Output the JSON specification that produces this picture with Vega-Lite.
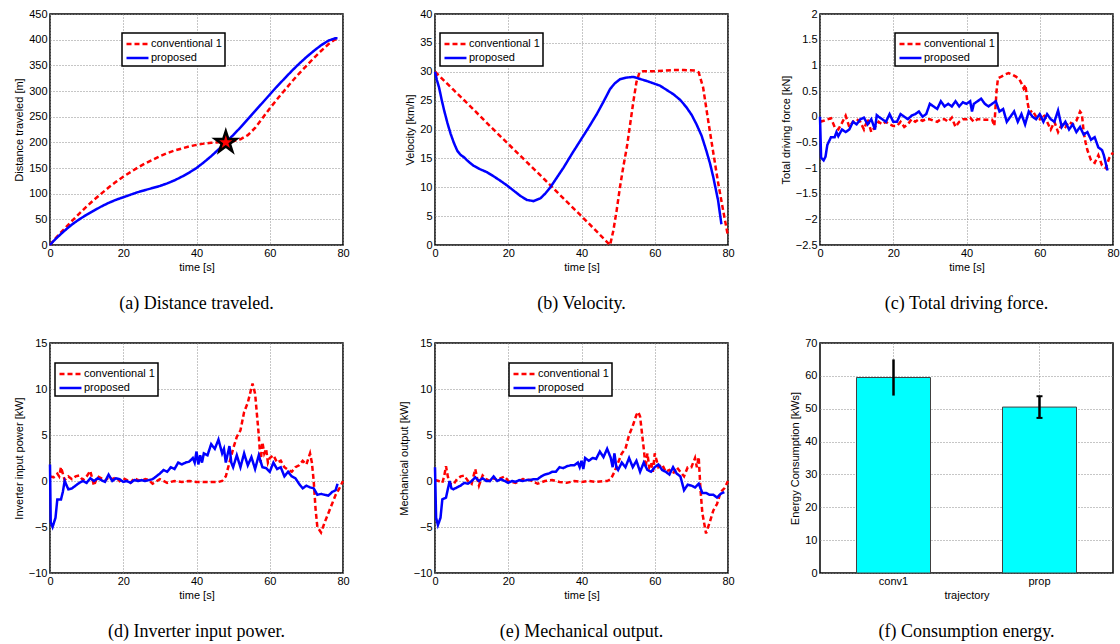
{
"$schema": "https://vega.github.io/schema/vega-lite/v6.json",
"background": "white",
"padding": {"left": 12, "top": 7, "right": 0, "bottom": 0},
"config": {
  "view": {"stroke": "black", "strokeWidth": 1.5},
  "axis": {"labelFont": "Liberation Sans", "labelFontSize": 11, "labelColor": "black", "titleFont": "Liberation Sans", "titleFontSize": 11, "titleFontWeight": "normal", "titleColor": "black", "ticks": false, "tickSize": 0, "domain": false, "grid": true, "gridColor": "#8c8c8c", "gridDash": [1, 2], "gridWidth": 1, "labelPadding": 3, "titlePadding": 4, "labelFlush": false, "labelOverlap": false},
  "axisX": {"labelPadding": 2, "titlePadding": 3},
  "legend": {"symbolType": "M-1,0L2.38,0", "symbolSize": 169, "symbolStrokeWidth": 2.5, "labelFont": "Liberation Sans", "labelFontSize": 11, "labelColor": "black", "labelOffset": 10, "padding": 3, "rowPadding": 1, "strokeColor": "black", "strokeWidth": 1.5, "fillColor": "white", "labelLimit": 200, "symbolOpacity": 1},
  "title": {"orient": "bottom", "font": "Liberation Serif", "fontSize": 18, "fontWeight": "normal", "color": "black", "offset": 23, "anchor": "middle", "baseline": "top"},
  "line": {"strokeWidth": 2.5, "clip": true}
},
"datasets": {
  "dist": [
    {"s":"c","t":0,"y":0},{"s":"c","t":2,"y":17},{"s":"c","t":4,"y":32},{"s":"c","t":6,"y":47},{"s":"c","t":8,"y":61},{"s":"c","t":10,"y":75},{"s":"c","t":12,"y":88},{"s":"c","t":14,"y":100},{"s":"c","t":16,"y":112},{"s":"c","t":18,"y":123},{"s":"c","t":20,"y":133},{"s":"c","t":22,"y":142},{"s":"c","t":24,"y":151},{"s":"c","t":26,"y":159},{"s":"c","t":28,"y":166},{"s":"c","t":30,"y":173},{"s":"c","t":32,"y":179},{"s":"c","t":34,"y":184},{"s":"c","t":36,"y":188},{"s":"c","t":38,"y":192},{"s":"c","t":40,"y":195},{"s":"c","t":42,"y":197.5},{"s":"c","t":44,"y":199},{"s":"c","t":46,"y":200},{"s":"c","t":48,"y":200.5},{"s":"c","t":50,"y":202},{"s":"c","t":52,"y":206},{"s":"c","t":54,"y":214},{"s":"c","t":56,"y":228},{"s":"c","t":58,"y":247},{"s":"c","t":60,"y":266},{"s":"c","t":62,"y":284},{"s":"c","t":64,"y":301},{"s":"c","t":66,"y":318},{"s":"c","t":68,"y":334},{"s":"c","t":70,"y":349},{"s":"c","t":72,"y":364},{"s":"c","t":74,"y":378},{"s":"c","t":76,"y":391},{"s":"c","t":77.5,"y":399},{"s":"c","t":78.5,"y":402},{"s":"c","t":79,"y":401.5},
    {"s":"p","t":0,"y":0},{"s":"p","t":1,"y":8},{"s":"p","t":2,"y":15},{"s":"p","t":4,"y":28},{"s":"p","t":6,"y":40},{"s":"p","t":8,"y":50},{"s":"p","t":10,"y":59},{"s":"p","t":12,"y":67},{"s":"p","t":14,"y":75},{"s":"p","t":16,"y":82},{"s":"p","t":18,"y":88},{"s":"p","t":20,"y":93},{"s":"p","t":22,"y":98},{"s":"p","t":24,"y":103},{"s":"p","t":26,"y":107},{"s":"p","t":28,"y":111},{"s":"p","t":30,"y":115},{"s":"p","t":32,"y":120},{"s":"p","t":34,"y":126},{"s":"p","t":36,"y":133},{"s":"p","t":38,"y":141},{"s":"p","t":40,"y":150},{"s":"p","t":42,"y":161},{"s":"p","t":44,"y":173},{"s":"p","t":46,"y":186},{"s":"p","t":48,"y":200},{"s":"p","t":50,"y":214},{"s":"p","t":52,"y":229},{"s":"p","t":54,"y":245},{"s":"p","t":56,"y":261},{"s":"p","t":58,"y":277},{"s":"p","t":60,"y":293},{"s":"p","t":62,"y":309},{"s":"p","t":64,"y":324},{"s":"p","t":66,"y":339},{"s":"p","t":68,"y":353},{"s":"p","t":70,"y":366},{"s":"p","t":72,"y":378},{"s":"p","t":74,"y":389},{"s":"p","t":76,"y":398},{"s":"p","t":78,"y":403},{"s":"p","t":78.5,"y":403}
  ],
  "vel": [
    {"s":"c","t":0,"y":30},{"s":"c","t":5,"y":26.9},{"s":"c","t":10,"y":23.8},{"s":"c","t":15,"y":20.6},{"s":"c","t":20,"y":17.5},{"s":"c","t":25,"y":14.4},{"s":"c","t":30,"y":11.3},{"s":"c","t":35,"y":8.1},{"s":"c","t":40,"y":5.0},{"s":"c","t":45,"y":1.8},{"s":"c","t":47.8,"y":0},{"s":"c","t":48.7,"y":2.5},{"s":"c","t":49.6,"y":6},{"s":"c","t":50.5,"y":10},{"s":"c","t":51.4,"y":13.5},{"s":"c","t":52.4,"y":17},{"s":"c","t":53.3,"y":21},{"s":"c","t":54.2,"y":25},{"s":"c","t":55,"y":28.2},{"s":"c","t":55.8,"y":29.8},{"s":"c","t":56.8,"y":30.1},{"s":"c","t":60,"y":30.1},{"s":"c","t":65,"y":30.3},{"s":"c","t":68,"y":30.3},{"s":"c","t":71,"y":30.2},{"s":"c","t":72,"y":29.9},{"s":"c","t":73.2,"y":27.3},{"s":"c","t":74.6,"y":21.5},{"s":"c","t":75.9,"y":16.3},{"s":"c","t":77.3,"y":10.8},{"s":"c","t":78.7,"y":5.9},{"s":"c","t":80,"y":1.5},
    {"s":"p","t":0,"y":30},{"s":"p","t":0.5,"y":28.6},{"s":"p","t":1.1,"y":27.3},{"s":"p","t":1.8,"y":25.2},{"s":"p","t":2.5,"y":23.3},{"s":"p","t":3.4,"y":21.1},{"s":"p","t":4.3,"y":19.2},{"s":"p","t":5.2,"y":17.6},{"s":"p","t":6.1,"y":16.3},{"s":"p","t":7,"y":15.6},{"s":"p","t":7.9,"y":15.2},{"s":"p","t":9.2,"y":14.4},{"s":"p","t":10.6,"y":13.7},{"s":"p","t":12.4,"y":13.1},{"s":"p","t":14.2,"y":12.6},{"s":"p","t":16,"y":11.9},{"s":"p","t":17.9,"y":11.1},{"s":"p","t":19.7,"y":10.3},{"s":"p","t":21.5,"y":9.4},{"s":"p","t":23.3,"y":8.5},{"s":"p","t":25.1,"y":7.8},{"s":"p","t":26.9,"y":7.6},{"s":"p","t":28.8,"y":8.1},{"s":"p","t":30.1,"y":8.9},{"s":"p","t":31.5,"y":10},{"s":"p","t":33.3,"y":11.7},{"s":"p","t":35.1,"y":13.4},{"s":"p","t":37.4,"y":15.8},{"s":"p","t":39.7,"y":18.1},{"s":"p","t":42,"y":20.4},{"s":"p","t":44.2,"y":22.7},{"s":"p","t":46,"y":24.8},{"s":"p","t":47.8,"y":27},{"s":"p","t":49.1,"y":28},{"s":"p","t":50.5,"y":28.7},{"s":"p","t":52.4,"y":29},{"s":"p","t":54.2,"y":29.1},{"s":"p","t":57.8,"y":28.4},{"s":"p","t":61.4,"y":27.6},{"s":"p","t":65.1,"y":26.1},{"s":"p","t":67,"y":25.1},{"s":"p","t":68.7,"y":23.8},{"s":"p","t":70.1,"y":22.5},{"s":"p","t":71.4,"y":20.9},{"s":"p","t":72.8,"y":18.9},{"s":"p","t":74.1,"y":16.3},{"s":"p","t":75.1,"y":14.1},{"s":"p","t":76,"y":11.7},{"s":"p","t":77.3,"y":7.7},{"s":"p","t":78.2,"y":3.6}
  ],
  "force": [
    {"s":"c","t":0,"y":-0.1},{"s":"c","t":1,"y":-0.08},{"s":"c","t":2,"y":-0.05},{"s":"c","t":3,"y":-0.03},{"s":"c","t":4,"y":-0.2},{"s":"c","t":5,"y":-0.25},{"s":"c","t":6,"y":-0.12},{"s":"c","t":7,"y":0.02},{"s":"c","t":8,"y":-0.2},{"s":"c","t":9,"y":-0.1},{"s":"c","t":10,"y":-0.05},{"s":"c","t":11,"y":-0.1},{"s":"c","t":12,"y":-0.25},{"s":"c","t":13,"y":-0.05},{"s":"c","t":14,"y":-0.3},{"s":"c","t":15,"y":-0.2},{"s":"c","t":16,"y":-0.1},{"s":"c","t":17,"y":-0.15},{"s":"c","t":18,"y":-0.1},{"s":"c","t":19,"y":-0.15},{"s":"c","t":20,"y":-0.18},{"s":"c","t":21,"y":-0.18},{"s":"c","t":22,"y":-0.1},{"s":"c","t":23,"y":-0.2},{"s":"c","t":24,"y":-0.15},{"s":"c","t":25,"y":-0.05},{"s":"c","t":26,"y":-0.1},{"s":"c","t":27,"y":-0.05},{"s":"c","t":28,"y":-0.08},{"s":"c","t":29,"y":-0.05},{"s":"c","t":30,"y":-0.05},{"s":"c","t":31,"y":-0.08},{"s":"c","t":32,"y":-0.1},{"s":"c","t":33,"y":-0.05},{"s":"c","t":34,"y":-0.05},{"s":"c","t":35,"y":-0.1},{"s":"c","t":36,"y":-0.02},{"s":"c","t":37,"y":-0.2},{"s":"c","t":38,"y":-0.1},{"s":"c","t":39,"y":-0.05},{"s":"c","t":40,"y":-0.05},{"s":"c","t":41,"y":-0.02},{"s":"c","t":42,"y":-0.1},{"s":"c","t":43,"y":-0.05},{"s":"c","t":44,"y":-0.05},{"s":"c","t":45,"y":-0.06},{"s":"c","t":46,"y":-0.06},{"s":"c","t":47,"y":-0.06},{"s":"c","t":47.6,"y":-0.18},{"s":"c","t":48.2,"y":0.5},{"s":"c","t":48.6,"y":0.75},{"s":"c","t":49.5,"y":0.78},{"s":"c","t":50.5,"y":0.82},{"s":"c","t":51.5,"y":0.85},{"s":"c","t":52.5,"y":0.82},{"s":"c","t":53.5,"y":0.78},{"s":"c","t":54.5,"y":0.72},{"s":"c","t":55.2,"y":0.62},{"s":"c","t":55.6,"y":0.55},{"s":"c","t":56.1,"y":0.62},{"s":"c","t":56.6,"y":0.3},{"s":"c","t":57.2,"y":0.08},{"s":"c","t":58,"y":0.12},{"s":"c","t":59,"y":0.0},{"s":"c","t":60,"y":-0.05},{"s":"c","t":61,"y":0.05},{"s":"c","t":62,"y":-0.1},{"s":"c","t":63,"y":-0.25},{"s":"c","t":64,"y":-0.1},{"s":"c","t":65,"y":-0.3},{"s":"c","t":66,"y":-0.15},{"s":"c","t":67,"y":-0.2},{"s":"c","t":68,"y":-0.1},{"s":"c","t":69,"y":-0.15},{"s":"c","t":70,"y":-0.08},{"s":"c","t":71,"y":0.1},{"s":"c","t":71.5,"y":0.05},{"s":"c","t":72,"y":-0.3},{"s":"c","t":72.5,"y":-0.5},{"s":"c","t":73,"y":-0.65},{"s":"c","t":74,"y":-0.85},{"s":"c","t":75,"y":-0.9},{"s":"c","t":76,"y":-0.75},{"s":"c","t":77,"y":-0.95},{"s":"c","t":78,"y":-1.0},{"s":"c","t":79,"y":-0.8},{"s":"c","t":80,"y":-0.7},
    {"s":"p","t":0,"y":0},{"s":"p","t":0.3,"y":-0.8},{"s":"p","t":1,"y":-0.85},{"s":"p","t":1.5,"y":-0.78},{"s":"p","t":2,"y":-0.55},{"s":"p","t":3,"y":-0.4},{"s":"p","t":4,"y":-0.4},{"s":"p","t":4.5,"y":-0.3},{"s":"p","t":5,"y":-0.38},{"s":"p","t":6,"y":-0.25},{"s":"p","t":7,"y":-0.3},{"s":"p","t":8,"y":-0.25},{"s":"p","t":9,"y":-0.1},{"s":"p","t":10,"y":-0.15},{"s":"p","t":11,"y":-0.05},{"s":"p","t":12,"y":-0.02},{"s":"p","t":13,"y":-0.15},{"s":"p","t":14,"y":-0.05},{"s":"p","t":15,"y":-0.25},{"s":"p","t":15.5,"y":0.03},{"s":"p","t":16,"y":0.0},{"s":"p","t":17,"y":-0.05},{"s":"p","t":18,"y":-0.1},{"s":"p","t":19,"y":0.05},{"s":"p","t":20,"y":-0.1},{"s":"p","t":21,"y":-0.1},{"s":"p","t":22,"y":0.05},{"s":"p","t":23,"y":0.0},{"s":"p","t":24,"y":-0.05},{"s":"p","t":25,"y":0.02},{"s":"p","t":26,"y":0.05},{"s":"p","t":27,"y":0.1},{"s":"p","t":28,"y":0.0},{"s":"p","t":29,"y":0.05},{"s":"p","t":30,"y":0.25},{"s":"p","t":31,"y":0.2},{"s":"p","t":32,"y":0.15},{"s":"p","t":33,"y":0.3},{"s":"p","t":34,"y":0.2},{"s":"p","t":35,"y":0.25},{"s":"p","t":36,"y":0.2},{"s":"p","t":37,"y":0.3},{"s":"p","t":38,"y":0.2},{"s":"p","t":39,"y":0.28},{"s":"p","t":40,"y":0.25},{"s":"p","t":41,"y":0.3},{"s":"p","t":41.5,"y":0.1},{"s":"p","t":42,"y":0.25},{"s":"p","t":43,"y":0.3},{"s":"p","t":44,"y":0.35},{"s":"p","t":45,"y":0.25},{"s":"p","t":46,"y":0.2},{"s":"p","t":47,"y":0.25},{"s":"p","t":48,"y":0.3},{"s":"p","t":49,"y":0.1},{"s":"p","t":50,"y":0.15},{"s":"p","t":51,"y":-0.1},{"s":"p","t":52,"y":0.0},{"s":"p","t":53,"y":0.1},{"s":"p","t":54,"y":-0.1},{"s":"p","t":55,"y":0.05},{"s":"p","t":56,"y":-0.15},{"s":"p","t":57,"y":0.1},{"s":"p","t":58,"y":0.0},{"s":"p","t":59,"y":-0.05},{"s":"p","t":60,"y":0.05},{"s":"p","t":61,"y":-0.1},{"s":"p","t":62,"y":0.05},{"s":"p","t":63,"y":-0.05},{"s":"p","t":64,"y":-0.1},{"s":"p","t":65,"y":0.12},{"s":"p","t":66,"y":-0.2},{"s":"p","t":67,"y":-0.1},{"s":"p","t":68,"y":-0.25},{"s":"p","t":69,"y":-0.15},{"s":"p","t":70,"y":-0.3},{"s":"p","t":71,"y":-0.2},{"s":"p","t":72,"y":-0.35},{"s":"p","t":73,"y":-0.3},{"s":"p","t":74,"y":-0.45},{"s":"p","t":75,"y":-0.4},{"s":"p","t":76,"y":-0.6},{"s":"p","t":77,"y":-0.65},{"s":"p","t":77.5,"y":-0.75},{"s":"p","t":78,"y":-0.9},{"s":"p","t":78.5,"y":-1.05}
  ],
  "inv": [
    {"s":"c","t":0,"y":0.5},{"s":"c","t":1,"y":0.4},{"s":"c","t":2,"y":0.8},{"s":"c","t":2.5,"y":0.5},{"s":"c","t":3,"y":1.5},{"s":"c","t":3.5,"y":0.8},{"s":"c","t":4,"y":0.1},{"s":"c","t":5,"y":0.5},{"s":"c","t":6,"y":0.2},{"s":"c","t":7,"y":0.5},{"s":"c","t":8,"y":0.6},{"s":"c","t":9,"y":0.1},{"s":"c","t":10,"y":0.5},{"s":"c","t":11,"y":1.1},{"s":"c","t":11.5,"y":0.3},{"s":"c","t":12,"y":-0.5},{"s":"c","t":13,"y":0.5},{"s":"c","t":14,"y":0.3},{"s":"c","t":15,"y":0.0},{"s":"c","t":16,"y":0.4},{"s":"c","t":17,"y":0.2},{"s":"c","t":18,"y":0.4},{"s":"c","t":19,"y":0.0},{"s":"c","t":20,"y":0.3},{"s":"c","t":21,"y":0.1},{"s":"c","t":22,"y":-0.2},{"s":"c","t":23,"y":0.3},{"s":"c","t":24,"y":0.1},{"s":"c","t":25,"y":0.0},{"s":"c","t":26,"y":0.2},{"s":"c","t":27,"y":0.1},{"s":"c","t":28,"y":-0.3},{"s":"c","t":30,"y":0.2},{"s":"c","t":32,"y":-0.2},{"s":"c","t":34,"y":0.0},{"s":"c","t":36,"y":-0.1},{"s":"c","t":38,"y":0.0},{"s":"c","t":40,"y":-0.1},{"s":"c","t":42,"y":-0.1},{"s":"c","t":44,"y":-0.1},{"s":"c","t":46,"y":-0.1},{"s":"c","t":47,"y":0.0},{"s":"c","t":48,"y":0.5},{"s":"c","t":49,"y":2.0},{"s":"c","t":50,"y":3.5},{"s":"c","t":51,"y":4.8},{"s":"c","t":52,"y":5.5},{"s":"c","t":53,"y":7.5},{"s":"c","t":54,"y":8.5},{"s":"c","t":55.3,"y":10.6},{"s":"c","t":56,"y":9.5},{"s":"c","t":57,"y":5},{"s":"c","t":57.5,"y":2.0},{"s":"c","t":58,"y":4.2},{"s":"c","t":58.5,"y":3.0},{"s":"c","t":59,"y":3.5},{"s":"c","t":59.5,"y":2.0},{"s":"c","t":60,"y":2.5},{"s":"c","t":61,"y":2.8},{"s":"c","t":62,"y":2.0},{"s":"c","t":63,"y":2.2},{"s":"c","t":64,"y":1.5},{"s":"c","t":65,"y":1.2},{"s":"c","t":66,"y":1.0},{"s":"c","t":67,"y":1.5},{"s":"c","t":68,"y":1.7},{"s":"c","t":69,"y":2.2},{"s":"c","t":70,"y":1.8},{"s":"c","t":71,"y":3.0},{"s":"c","t":71.5,"y":2.0},{"s":"c","t":72,"y":0.0},{"s":"c","t":72.5,"y":-3.0},{"s":"c","t":73,"y":-5.0},{"s":"c","t":74,"y":-5.6},{"s":"c","t":75,"y":-4.5},{"s":"c","t":76,"y":-3.5},{"s":"c","t":77,"y":-2.5},{"s":"c","t":78,"y":-1.5},{"s":"c","t":79,"y":-0.8},{"s":"c","t":80,"y":0.0},
    {"s":"p","t":0,"y":1.8},{"s":"p","t":0.2,"y":-4.5},{"s":"p","t":0.7,"y":-5.0},{"s":"p","t":1.5,"y":-4.0},{"s":"p","t":2,"y":-2.0},{"s":"p","t":3,"y":-2.0},{"s":"p","t":3.5,"y":-1.2},{"s":"p","t":4,"y":0.0},{"s":"p","t":5,"y":-0.9},{"s":"p","t":6,"y":-0.8},{"s":"p","t":7,"y":-0.5},{"s":"p","t":8,"y":-0.2},{"s":"p","t":9,"y":0.0},{"s":"p","t":10,"y":-0.2},{"s":"p","t":11,"y":0.3},{"s":"p","t":12,"y":0.0},{"s":"p","t":13,"y":0.3},{"s":"p","t":14,"y":0.1},{"s":"p","t":15,"y":-0.1},{"s":"p","t":16,"y":0.7},{"s":"p","t":17,"y":0.0},{"s":"p","t":18,"y":0.3},{"s":"p","t":19,"y":0.2},{"s":"p","t":20,"y":-0.1},{"s":"p","t":21,"y":0.0},{"s":"p","t":22,"y":-0.2},{"s":"p","t":23,"y":0.1},{"s":"p","t":24,"y":0.0},{"s":"p","t":25,"y":0.1},{"s":"p","t":26,"y":0.0},{"s":"p","t":27,"y":0.1},{"s":"p","t":28,"y":0.2},{"s":"p","t":29,"y":0.5},{"s":"p","t":30,"y":0.8},{"s":"p","t":31,"y":1.2},{"s":"p","t":32,"y":1.0},{"s":"p","t":33,"y":1.5},{"s":"p","t":34,"y":1.3},{"s":"p","t":35,"y":2.0},{"s":"p","t":36,"y":1.8},{"s":"p","t":37,"y":2.0},{"s":"p","t":38,"y":2.1},{"s":"p","t":39,"y":2.5},{"s":"p","t":39.5,"y":2.0},{"s":"p","t":40,"y":3.2},{"s":"p","t":40.5,"y":1.8},{"s":"p","t":41,"y":2.8},{"s":"p","t":41.5,"y":2.0},{"s":"p","t":42,"y":3.0},{"s":"p","t":43,"y":2.8},{"s":"p","t":44,"y":4.0},{"s":"p","t":45,"y":3.5},{"s":"p","t":46,"y":4.5},{"s":"p","t":47,"y":3.0},{"s":"p","t":47.5,"y":3.5},{"s":"p","t":48,"y":2.0},{"s":"p","t":49,"y":3.8},{"s":"p","t":49.5,"y":2.0},{"s":"p","t":50,"y":1.5},{"s":"p","t":51,"y":2.8},{"s":"p","t":52,"y":1.5},{"s":"p","t":53,"y":3.0},{"s":"p","t":54,"y":1.7},{"s":"p","t":55,"y":2.6},{"s":"p","t":56,"y":1.3},{"s":"p","t":57,"y":2.8},{"s":"p","t":58,"y":1.5},{"s":"p","t":59,"y":1.4},{"s":"p","t":60,"y":1.0},{"s":"p","t":61,"y":2.0},{"s":"p","t":62,"y":1.3},{"s":"p","t":63,"y":1.5},{"s":"p","t":64,"y":0.5},{"s":"p","t":65,"y":1.0},{"s":"p","t":66,"y":0.5},{"s":"p","t":67,"y":0.3},{"s":"p","t":68,"y":-0.3},{"s":"p","t":69,"y":-0.8},{"s":"p","t":70,"y":-0.5},{"s":"p","t":71,"y":-0.7},{"s":"p","t":72,"y":-0.8},{"s":"p","t":73,"y":-1.5},{"s":"p","t":74,"y":-1.4},{"s":"p","t":75,"y":-1.5},{"s":"p","t":76,"y":-1.6},{"s":"p","t":77,"y":-1.2},{"s":"p","t":78,"y":-1.0},{"s":"p","t":78.5,"y":-0.3}
  ],
  "mech": [
    {"s":"c","t":0,"y":0.1},{"s":"c","t":1,"y":0.0},{"s":"c","t":2,"y":-0.2},{"s":"c","t":2.5,"y":0.5},{"s":"c","t":3,"y":1.6},{"s":"c","t":3.5,"y":0.5},{"s":"c","t":4,"y":-0.3},{"s":"c","t":5,"y":-0.4},{"s":"c","t":6,"y":0.2},{"s":"c","t":7,"y":0.5},{"s":"c","t":8,"y":0.6},{"s":"c","t":9,"y":0.0},{"s":"c","t":10,"y":-0.3},{"s":"c","t":11,"y":1.3},{"s":"c","t":11.5,"y":0.3},{"s":"c","t":12,"y":-0.5},{"s":"c","t":13,"y":0.6},{"s":"c","t":14,"y":0.2},{"s":"c","t":15,"y":0.0},{"s":"c","t":16,"y":0.3},{"s":"c","t":17,"y":0.1},{"s":"c","t":18,"y":0.3},{"s":"c","t":19,"y":0.5},{"s":"c","t":20,"y":0.0},{"s":"c","t":22,"y":-0.2},{"s":"c","t":24,"y":0.2},{"s":"c","t":26,"y":0.1},{"s":"c","t":28,"y":-0.3},{"s":"c","t":30,"y":0.0},{"s":"c","t":32,"y":0.1},{"s":"c","t":34,"y":-0.1},{"s":"c","t":36,"y":-0.2},{"s":"c","t":38,"y":0.0},{"s":"c","t":40,"y":-0.1},{"s":"c","t":42,"y":0.0},{"s":"c","t":44,"y":-0.1},{"s":"c","t":46,"y":0.0},{"s":"c","t":47,"y":0.0},{"s":"c","t":48,"y":0.2},{"s":"c","t":49,"y":1.0},{"s":"c","t":50,"y":2.0},{"s":"c","t":51,"y":3.0},{"s":"c","t":52,"y":3.5},{"s":"c","t":53,"y":5.0},{"s":"c","t":54,"y":6.0},{"s":"c","t":55,"y":7.2},{"s":"c","t":55.5,"y":7.5},{"s":"c","t":56,"y":7.0},{"s":"c","t":57,"y":3.5},{"s":"c","t":57.5,"y":1.5},{"s":"c","t":58,"y":3.0},{"s":"c","t":58.5,"y":1.5},{"s":"c","t":59,"y":2.0},{"s":"c","t":59.5,"y":1.0},{"s":"c","t":60,"y":3.0},{"s":"c","t":61,"y":1.5},{"s":"c","t":62,"y":1.8},{"s":"c","t":63,"y":1.0},{"s":"c","t":64,"y":1.2},{"s":"c","t":65,"y":0.8},{"s":"c","t":66,"y":1.5},{"s":"c","t":67,"y":1.0},{"s":"c","t":68,"y":0.5},{"s":"c","t":69,"y":1.5},{"s":"c","t":70,"y":1.5},{"s":"c","t":71,"y":2.5},{"s":"c","t":71.5,"y":1.5},{"s":"c","t":72,"y":2.6},{"s":"c","t":72.5,"y":-1.0},{"s":"c","t":73,"y":-3.5},{"s":"c","t":74,"y":-5.7},{"s":"c","t":75,"y":-4.5},{"s":"c","t":76,"y":-3.2},{"s":"c","t":77,"y":-2.5},{"s":"c","t":78,"y":-1.2},{"s":"c","t":79,"y":-0.8},{"s":"c","t":80,"y":0.0},
    {"s":"p","t":0,"y":1.5},{"s":"p","t":0.3,"y":-4.0},{"s":"p","t":0.8,"y":-4.8},{"s":"p","t":1.5,"y":-4.0},{"s":"p","t":2,"y":-2.0},{"s":"p","t":3,"y":-1.8},{"s":"p","t":4,"y":0.0},{"s":"p","t":4.5,"y":-0.8},{"s":"p","t":5,"y":-0.9},{"s":"p","t":6,"y":-0.7},{"s":"p","t":7,"y":-0.5},{"s":"p","t":8,"y":-0.2},{"s":"p","t":9,"y":-0.3},{"s":"p","t":10,"y":0.0},{"s":"p","t":11,"y":0.4},{"s":"p","t":12,"y":0.0},{"s":"p","t":13,"y":0.3},{"s":"p","t":14,"y":0.0},{"s":"p","t":15,"y":0.0},{"s":"p","t":16,"y":0.5},{"s":"p","t":17,"y":0.0},{"s":"p","t":18,"y":0.2},{"s":"p","t":19,"y":0.0},{"s":"p","t":20,"y":-0.2},{"s":"p","t":21,"y":0.0},{"s":"p","t":22,"y":-0.1},{"s":"p","t":23,"y":0.1},{"s":"p","t":24,"y":0.0},{"s":"p","t":25,"y":0.1},{"s":"p","t":26,"y":0.1},{"s":"p","t":27,"y":0.2},{"s":"p","t":28,"y":0.2},{"s":"p","t":29,"y":0.5},{"s":"p","t":30,"y":0.7},{"s":"p","t":31,"y":0.8},{"s":"p","t":32,"y":1.0},{"s":"p","t":33,"y":1.0},{"s":"p","t":34,"y":1.5},{"s":"p","t":35,"y":1.4},{"s":"p","t":36,"y":1.6},{"s":"p","t":37,"y":1.7},{"s":"p","t":38,"y":1.7},{"s":"p","t":39,"y":2.0},{"s":"p","t":39.5,"y":1.5},{"s":"p","t":40,"y":2.2},{"s":"p","t":40.5,"y":1.3},{"s":"p","t":41,"y":2.5},{"s":"p","t":42,"y":2.2},{"s":"p","t":43,"y":2.5},{"s":"p","t":44,"y":2.4},{"s":"p","t":45,"y":3.2},{"s":"p","t":46,"y":2.6},{"s":"p","t":47,"y":3.5},{"s":"p","t":48,"y":2.5},{"s":"p","t":48.5,"y":1.5},{"s":"p","t":49,"y":3.0},{"s":"p","t":49.5,"y":1.5},{"s":"p","t":50,"y":1.2},{"s":"p","t":51,"y":2.0},{"s":"p","t":52,"y":1.5},{"s":"p","t":53,"y":2.5},{"s":"p","t":54,"y":1.5},{"s":"p","t":55,"y":2.2},{"s":"p","t":56,"y":1.0},{"s":"p","t":57,"y":2.0},{"s":"p","t":58,"y":1.2},{"s":"p","t":59,"y":1.0},{"s":"p","t":60,"y":1.5},{"s":"p","t":61,"y":1.8},{"s":"p","t":62,"y":1.2},{"s":"p","t":63,"y":1.0},{"s":"p","t":64,"y":0.7},{"s":"p","t":65,"y":1.5},{"s":"p","t":66,"y":0.8},{"s":"p","t":67,"y":0.5},{"s":"p","t":68,"y":-1.0},{"s":"p","t":69,"y":-0.4},{"s":"p","t":70,"y":-0.5},{"s":"p","t":71,"y":-0.7},{"s":"p","t":72,"y":-0.3},{"s":"p","t":73,"y":-1.3},{"s":"p","t":74,"y":-1.3},{"s":"p","t":75,"y":-1.5},{"s":"p","t":76,"y":-1.5},{"s":"p","t":77,"y":-1.8},{"s":"p","t":78,"y":-1.4},{"s":"p","t":79,"y":-1.2}
  ],
  "energy": [
    {"traj":"conv1","e":59.5,"lo":54,"hi":65},
    {"traj":"prop","e":50.5,"lo":47.2,"hi":53.8}
  ]
},
"spacing": 22,
"resolve": {"scale": {"color": "independent", "strokeDash": "independent"}, "legend": {"color": "independent", "strokeDash": "independent"}},
"vconcat": [
  {
    "spacing": 92,
    "bounds": "flush",
    "resolve": {"scale": {"color": "independent", "strokeDash": "independent"}, "legend": {"color": "independent", "strokeDash": "independent"}},
    "hconcat": [
      {
        "title": "(a) Distance traveled.",
        "width": 293, "height": 231,
        "encoding": {
          "x": {"field": "t", "type": "quantitative", "scale": {"domain": [0, 80], "nice": false}, "axis": {"title": "time [s]", "values": [0, 20, 40, 60, 80]}},
          "y": {"field": "y", "type": "quantitative", "scale": {"domain": [0, 450], "nice": false}, "axis": {"title": "Distance traveled [m]", "values": [0, 50, 100, 150, 200, 250, 300, 350, 400, 450]}}
        },
        "layer": [
          {
            "data": {"name": "dist"},
            "mark": {"type": "line", "strokeWidth": 2.5},
            "encoding": {
              "color": {"field": "s", "type": "nominal", "scale": {"domain": ["c", "p"], "range": ["#ff0000", "#0000ff"]}, "legend": {"orient": "none", "legendX": 72, "legendY": 19, "title": null, "labelExpr": "datum.label == 'c' ? 'conventional 1' : 'proposed'"}},
              "strokeDash": {"field": "s", "type": "nominal", "scale": {"domain": ["c", "p"], "range": [[5, 3], [1, 0]]}, "legend": {"orient": "none", "legendX": 72, "legendY": 19, "title": null, "labelExpr": "datum.label == 'c' ? 'conventional 1' : 'proposed'"}}
            }
          },
          {
            "data": {"values": [{"t": 48, "y": 200}]},
            "mark": {"type": "point", "shape": "M0,-1L0.225,-0.309L0.951,-0.309L0.363,0.118L0.588,0.809L0,0.382L-0.588,0.809L-0.363,0.118L-0.951,-0.309L-0.225,-0.309Z", "size": 500, "filled": true, "fill": "#ff0000", "stroke": "black", "strokeWidth": 2.5, "opacity": 1}
          }
        ]
      },
      {
        "title": "(b) Velocity.",
        "width": 293, "height": 231,
        "data": {"name": "vel"},
        "mark": {"type": "line", "strokeWidth": 2.5},
        "encoding": {
          "x": {"field": "t", "type": "quantitative", "scale": {"domain": [0, 80], "nice": false}, "axis": {"title": "time [s]", "values": [0, 20, 40, 60, 80]}},
          "y": {"field": "y", "type": "quantitative", "scale": {"domain": [0, 40], "nice": false}, "axis": {"title": "Velocity [km/h]", "values": [0, 5, 10, 15, 20, 25, 30, 35, 40]}},
          "color": {"field": "s", "type": "nominal", "scale": {"domain": ["c", "p"], "range": ["#ff0000", "#0000ff"]}, "legend": {"orient": "none", "legendX": 5, "legendY": 19, "title": null, "labelExpr": "datum.label == 'c' ? 'conventional 1' : 'proposed'"}},
          "strokeDash": {"field": "s", "type": "nominal", "scale": {"domain": ["c", "p"], "range": [[5, 3], [1, 0]]}, "legend": {"orient": "none", "legendX": 5, "legendY": 19, "title": null, "labelExpr": "datum.label == 'c' ? 'conventional 1' : 'proposed'"}}
        }
      },
      {
        "title": "(c) Total driving force.",
        "width": 293, "height": 231,
        "data": {"name": "force"},
        "mark": {"type": "line", "strokeWidth": 2.5},
        "encoding": {
          "x": {"field": "t", "type": "quantitative", "scale": {"domain": [0, 80], "nice": false}, "axis": {"title": "time [s]", "values": [0, 20, 40, 60, 80]}},
          "y": {"field": "y", "type": "quantitative", "scale": {"domain": [-2.5, 2], "nice": false, "zero": false}, "axis": {"title": "Total driving force [kN]", "format": "~g", "values": [-2.5, -2, -1.5, -1, -0.5, 0, 0.5, 1, 1.5, 2]}},
          "color": {"field": "s", "type": "nominal", "scale": {"domain": ["c", "p"], "range": ["#ff0000", "#0000ff"]}, "legend": {"orient": "none", "legendX": 75, "legendY": 19, "title": null, "labelExpr": "datum.label == 'c' ? 'conventional 1' : 'proposed'"}},
          "strokeDash": {"field": "s", "type": "nominal", "scale": {"domain": ["c", "p"], "range": [[5, 3], [1, 0]]}, "legend": {"orient": "none", "legendX": 75, "legendY": 19, "title": null, "labelExpr": "datum.label == 'c' ? 'conventional 1' : 'proposed'"}}
        }
      }
    ]
  },
  {
    "spacing": 92,
    "bounds": "flush",
    "resolve": {"scale": {"color": "independent", "strokeDash": "independent"}, "legend": {"color": "independent", "strokeDash": "independent"}},
    "hconcat": [
      {
        "title": "(d) Inverter input power.",
        "width": 293, "height": 230,
        "data": {"name": "inv"},
        "mark": {"type": "line", "strokeWidth": 2.5},
        "encoding": {
          "x": {"field": "t", "type": "quantitative", "scale": {"domain": [0, 80], "nice": false}, "axis": {"title": "time [s]", "values": [0, 20, 40, 60, 80]}},
          "y": {"field": "y", "type": "quantitative", "scale": {"domain": [-10, 15], "nice": false, "zero": false}, "axis": {"title": "Inverter input power [kW]", "values": [-10, -5, 0, 5, 10, 15]}},
          "color": {"field": "s", "type": "nominal", "scale": {"domain": ["c", "p"], "range": ["#ff0000", "#0000ff"]}, "legend": {"orient": "none", "legendX": 5, "legendY": 20, "title": null, "labelExpr": "datum.label == 'c' ? 'conventional 1' : 'proposed'"}},
          "strokeDash": {"field": "s", "type": "nominal", "scale": {"domain": ["c", "p"], "range": [[5, 3], [1, 0]]}, "legend": {"orient": "none", "legendX": 5, "legendY": 20, "title": null, "labelExpr": "datum.label == 'c' ? 'conventional 1' : 'proposed'"}}
        }
      },
      {
        "title": "(e) Mechanical output.",
        "width": 293, "height": 230,
        "data": {"name": "mech"},
        "mark": {"type": "line", "strokeWidth": 2.5},
        "encoding": {
          "x": {"field": "t", "type": "quantitative", "scale": {"domain": [0, 80], "nice": false}, "axis": {"title": "time [s]", "values": [0, 20, 40, 60, 80]}},
          "y": {"field": "y", "type": "quantitative", "scale": {"domain": [-10, 15], "nice": false, "zero": false}, "axis": {"title": "Mechanical output [kW]", "values": [-10, -5, 0, 5, 10, 15]}},
          "color": {"field": "s", "type": "nominal", "scale": {"domain": ["c", "p"], "range": ["#ff0000", "#0000ff"]}, "legend": {"orient": "none", "legendX": 74, "legendY": 20, "title": null, "labelExpr": "datum.label == 'c' ? 'conventional 1' : 'proposed'"}},
          "strokeDash": {"field": "s", "type": "nominal", "scale": {"domain": ["c", "p"], "range": [[5, 3], [1, 0]]}, "legend": {"orient": "none", "legendX": 74, "legendY": 20, "title": null, "labelExpr": "datum.label == 'c' ? 'conventional 1' : 'proposed'"}}
        }
      },
      {
        "title": "(f) Consumption energy.",
        "width": 293, "height": 230,
        "data": {"name": "energy"},
        "encoding": {
          "x": {"field": "traj", "type": "nominal", "sort": null, "scale": {"paddingInner": 0.493, "paddingOuter": 0.25}, "axis": {"title": "trajectory", "labelAngle": 0, "bandPosition": 0.5}}
        },
        "layer": [
          {
            "mark": {"type": "bar", "fill": "#00ffff", "stroke": "#404040", "strokeWidth": 1},
            "encoding": {
              "y": {"field": "e", "type": "quantitative", "scale": {"domain": [0, 70], "nice": false}, "axis": {"title": "Energy Consumption [kWs]", "values": [0, 10, 20, 30, 40, 50, 60, 70]}}
            }
          },
          {
            "mark": {"type": "rule", "color": "black", "strokeWidth": 2.5},
            "encoding": {
              "y": {"field": "lo", "type": "quantitative", "axis": {"title": "Energy Consumption [kWs]", "values": [0, 10, 20, 30, 40, 50, 60, 70]}},
              "y2": {"field": "hi"}
            }
          },
          {
            "transform": [{"filter": "datum.traj == 'prop'"}],
            "mark": {"type": "tick", "color": "black", "thickness": 2, "size": 6, "opacity": 1},
            "encoding": {"y": {"field": "lo", "type": "quantitative", "axis": {"title": "Energy Consumption [kWs]", "values": [0, 10, 20, 30, 40, 50, 60, 70]}}}
          },
          {
            "transform": [{"filter": "datum.traj == 'prop'"}],
            "mark": {"type": "tick", "color": "black", "thickness": 2, "size": 6, "opacity": 1},
            "encoding": {"y": {"field": "hi", "type": "quantitative", "axis": {"title": "Energy Consumption [kWs]", "values": [0, 10, 20, 30, 40, 50, 60, 70]}}}
          }
        ]
      }
    ]
  }
]
}
